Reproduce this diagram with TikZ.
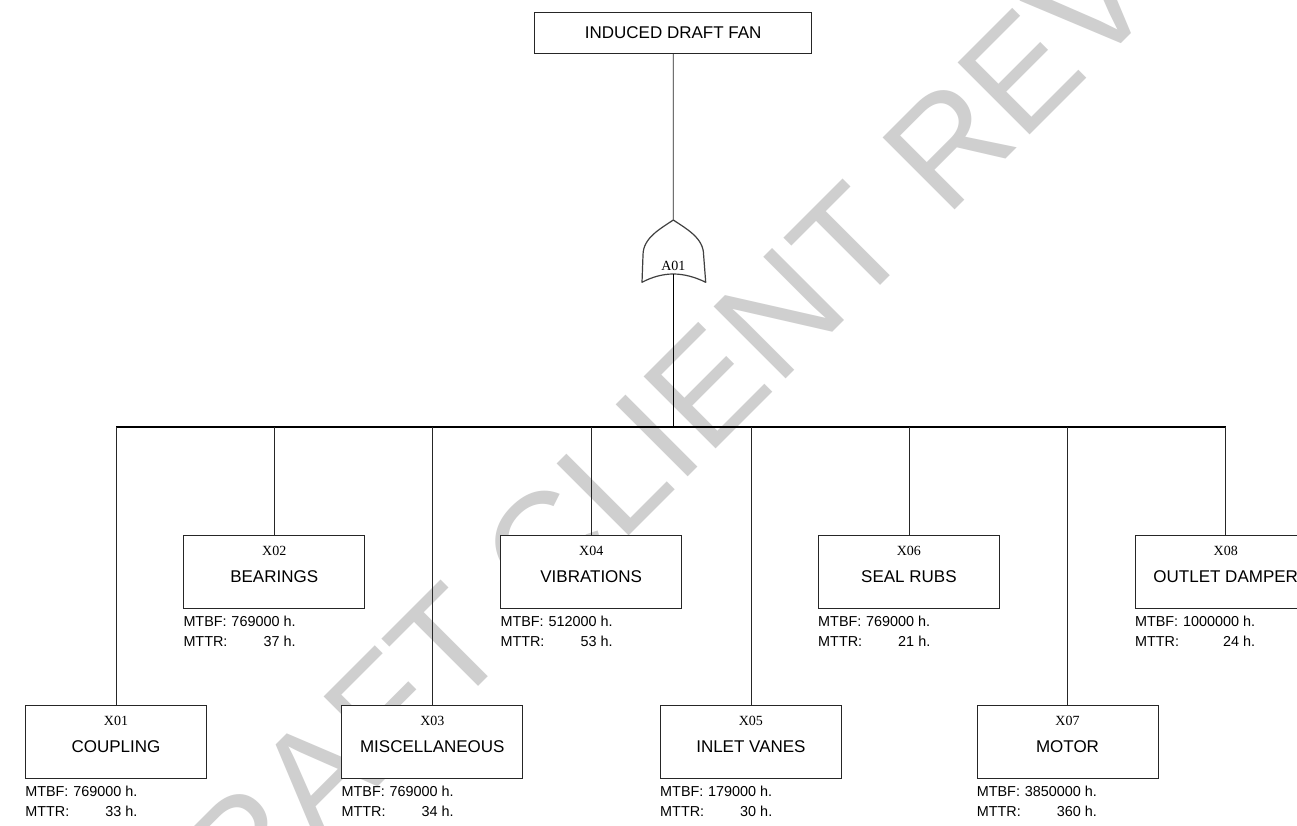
\documentclass[tikz,border=0pt]{standalone}
\usepackage{fontspec}
\newfontfamily\lsans{Liberation Sans}
\newfontfamily\lserif{Liberation Serif}
\newcommand{\infotab}[2]{\begin{tabular}{@{}l@{\ }r@{}}MTBF: & #1 h.\\MTTR: & #2 h.\end{tabular}}
\begin{document}
\begin{tikzpicture}[x=1pt,y=-1pt,
  evbox/.style={draw=black!85, fill=white, line width=0.8pt, minimum width=181, minimum height=73, inner sep=0},
  topbox/.style={draw=black!85, fill=white, line width=0.8pt, minimum width=277, minimum height=41, inner sep=0, font=\lsans\fontsize{17}{20}\selectfont},
  xlab/.style={inner sep=0, font=\lserif\fontsize{14}{16}\selectfont},
  nmlab/.style={inner sep=0, font=\lsans\fontsize{17}{20}\selectfont},
  info/.style={inner sep=0, anchor=north west, font=\lsans\fontsize{14.4}{20}\selectfont},
  wire/.style={draw=black!85, line width=0.8pt},
  bus/.style={draw=black, line width=1.6pt},
  gate/.style={draw=black!75, fill=white, line width=1.2pt, line join=round},
  wmark/.style={text=black!19, inner sep=0, font=\lsans\fontsize{148}{148}\selectfont}
]
\clip (0,0) rectangle (1297,826);
\fill[white] (0,0) rectangle (1297,826);
% watermark
\node[wmark, rotate=45] (wm) at (727,366) {DRAFT CLIENT REVIEW};
% top event
\node[topbox] (top) at (673.2,32.5) {INDUCED DRAFT FAN};
% OR gate
\coordinate (gtop) at (673.3,220);
\coordinate (gbot) at (673.3,274);
\coordinate (hub) at (673.3,427);
\draw[wire] (top.south) -- (gtop);
\draw[gate] (642,282.3) -- (643,255) .. controls (643,238) and (660,229) .. (gtop)
  .. controls (686.6,229) and (703.6,238) .. (703.6,255) -- (705.7,282.3)
  .. controls (695,277) and (684,274) .. (gbot)
  .. controls (662.6,274) and (652,277) .. (642,282.3) -- cycle;
\node[xlab] (gl) at (673.3,265.5) {A01};
\draw[bus] (gbot) -- (hub);
% basic events
\node[evbox] (b1) at (116,741.5) {};
\node[evbox] (b2) at (274.2,571.5) {};
\node[evbox] (b3) at (432.3,741.5) {};
\node[evbox] (b4) at (591.2,571.5) {};
\node[evbox] (b5) at (750.9,741.5) {};
\node[evbox] (b6) at (908.9,571.5) {};
\node[evbox] (b7) at (1067.5,741.5) {};
\node[evbox] (b8) at (1225.7,571.5) {};
\draw[bus] (b1.north |- hub) -- (b8.north |- hub);
\foreach \i in {1,...,8} {\draw[wire] (b\i.north) -- (b\i.north |- hub);}
\foreach \i/\x/\n/\f/\r in {1/X01/COUPLING/769000/33, 2/X02/BEARINGS/769000/37, 3/X03/MISCELLANEOUS/769000/34, 4/X04/VIBRATIONS/512000/53, 5/X05/INLET VANES/179000/30, 6/X06/SEAL RUBS/769000/21, 7/X07/MOTOR/3850000/360, 8/X08/OUTLET DAMPER/1000000/24} {
  \node[xlab] (x\i) at ([yshift=-16.5]b\i.north) {\x};
  \node[nmlab] (n\i) at ([yshift=-42.3]b\i.north) {\n};
  \node[info] (m\i) at ([yshift=-4]b\i.south west) {\infotab{\f}{\r}};
}
\end{tikzpicture}
\end{document}
